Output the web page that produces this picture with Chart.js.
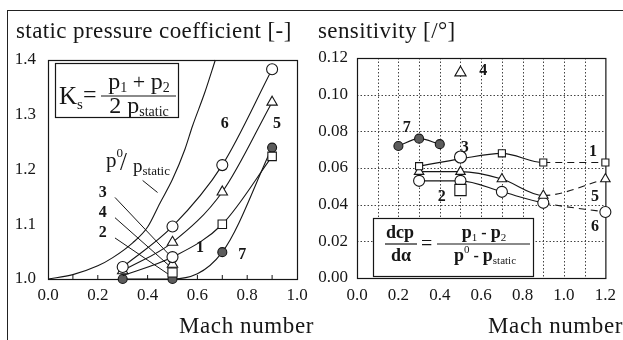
<!DOCTYPE html>
<html>
<head>
<meta charset="utf-8">
<script src="https://cdn.jsdelivr.net/npm/chart.js@4.4.0/dist/chart.umd.min.js"></script>
<style>
  html, body { margin: 0; padding: 0; background: #fff; }
  #wrap { position: relative; width: 623px; height: 340px; overflow: hidden; background: #fff; }
  #c1 { position: absolute; left: 0; top: 0; }
  #c2 { position: absolute; left: 310px; top: 0; }
  #frameTop { position: absolute; left: 7px; top: 10px; width: 616px; height: 0; border-top: 1.5px solid #222; }
  #frameLeft { position: absolute; left: 7px; top: 10px; width: 0; height: 330px; border-left: 1.5px solid #222; }
</style>
</head>
<body>
<div id="wrap">
  <canvas id="c1" width="330" height="340"></canvas>
  <canvas id="c2" width="313" height="340"></canvas>
  <div id="frameTop"></div>
  <div id="frameLeft"></div>
</div>
<script>
// ---------------- data ----------------
// Static pressure coefficient Ks = (p1 + p2) / (2 p_static) per probe
const ksMach = [0.3, 0.5, 0.7, 0.9];
const ksProbe1 = [1.006, 1.040, 1.100, 1.224];
const ksProbe5 = [1.015, 1.067, 1.159, 1.323];
const ksProbe6 = [1.022, 1.096, 1.208, 1.383];
const ksProbe7 = [1.000, 1.000, 1.049, 1.240];
const ksSingleMach = [0.5];
const ksProbe2 = [1.012];
const ksProbe3 = [1.040];
const ksProbe4 = [1.027];

// Total-to-static pressure ratio p0 / p_static
const ratioMach  = [0.0, 0.1, 0.2, 0.26, 0.34, 0.40, 0.45, 0.50, 0.55, 0.58, 0.63, 0.672];
const ratioValue = [1.000, 1.008, 1.024, 1.039, 1.066, 1.095, 1.139, 1.182, 1.237, 1.279, 1.341, 1.400];

// Sensitivity dcp/dalpha per probe [1/deg]
const sensMach = [0.3, 0.5, 0.7, 0.9, 1.2];
const sensProbe1 = [0.061, 0.065, 0.068, 0.063, 0.063];
const sensProbe5 = [0.058, 0.058, 0.054, 0.045, 0.054];
const sensProbe6 = [0.053, 0.053, 0.047, 0.041, 0.036];
const sens7Mach = [0.2, 0.3, 0.4];
const sensProbe7 = [0.072, 0.076, 0.073];
const sensSingleMach = [0.5];
const sensProbe2 = [0.048];
const sensProbe3 = [0.066];
const sensProbe4 = [0.112];

// Tick values
const ksMachTicks = [0.0, 0.2, 0.4, 0.6, 0.8, 1.0];
const ksTicks = [1.0, 1.1, 1.2, 1.3, 1.4];
const sensMachTicks = [0.0, 0.2, 0.4, 0.6, 0.8, 1.0, 1.2];
const sensTicks = [0.00, 0.02, 0.04, 0.06, 0.08, 0.10, 0.12];
const sensMachGrid = [0.1, 0.2, 0.3, 0.4, 0.5, 0.6, 0.7, 0.8, 0.9, 1.0, 1.1];
const sensGrid = [0.02, 0.04, 0.06, 0.08, 0.10];

// Probe labels and leader lines, in axis units
const ksLabels = [
  ['6', 0.71, 1.283], ['5', 0.92, 1.283], ['3', 0.22, 1.158], ['4', 0.22, 1.121],
  ['2', 0.22, 1.084], ['1', 0.61, 1.057], ['7', 0.78, 1.044]
];
const ksLeaders = [
  [0.269, 1.149, 0.502, 1.037],
  [0.269, 1.112, 0.510, 1.015],
  [0.269, 1.075, 0.502, 1.003],
  [0.380, 1.180, 0.440, 1.158]
];
const sensLabels = [
  ['7', 0.24, 0.082], ['4', 0.61, 0.113], ['3', 0.52, 0.071], ['2', 0.41, 0.044],
  ['1', 1.14, 0.069], ['5', 1.15, 0.044], ['6', 1.15, 0.028]
];

// ---------------- helpers ----------------
const INK = '#161616';
const FILL7 = '#5c5c5c';
const SERIF = '"Liberation Serif", "Times New Roman", "DejaVu Serif", serif';

const pts = (xs, ys) => xs.map((x, i) => ({ x, y: ys[i] }));

function text(ctx, s, x, y, size, o = {}) {
  ctx.save();
  ctx.font = (o.bold ? 'bold ' : '') + size + 'px ' + SERIF;
  ctx.fillStyle = o.color || INK;
  ctx.textAlign = o.align || 'left';
  ctx.textBaseline = o.baseline || 'alphabetic';
  if (o.spacing) ctx.letterSpacing = o.spacing + 'px';
  ctx.fillText(s, x, y);
  const w = ctx.measureText(s).width;
  ctx.restore();
  return w;
}

// Draws a run of text pieces [string, size, dy, bold] centred or left aligned on x
function runs(ctx, parts, x, y, align) {
  ctx.save();
  const widths = parts.map(p => {
    ctx.font = (p[3] ? 'bold ' : '') + p[1] + 'px ' + SERIF;
    return ctx.measureText(p[0]).width;
  });
  const total = widths.reduce((a, b) => a + b, 0);
  let cx = align === 'center' ? x - total / 2 : x;
  ctx.fillStyle = INK;
  ctx.textBaseline = 'alphabetic';
  ctx.textAlign = 'left';
  parts.forEach((p, i) => {
    ctx.font = (p[3] ? 'bold ' : '') + p[1] + 'px ' + SERIF;
    ctx.fillText(p[0], cx, y + (p[2] || 0));
    cx += widths[i];
  });
  ctx.restore();
  return total;
}

function seg(ctx, x0, y0, x1, y1, w) {
  ctx.save();
  ctx.strokeStyle = INK;
  ctx.lineWidth = w || 1;
  ctx.beginPath();
  ctx.moveTo(x0, y0);
  ctx.lineTo(x1, y1);
  ctx.stroke();
  ctx.restore();
}

function axes(opts) {
  return {
    x: {
      type: 'linear', min: opts.xmin, max: opts.xmax,
      afterBuildTicks: s => { s.ticks = opts.xticks.map(v => ({ value: v })); },
      afterFit: s => { s.height = opts.xh; },
      grid: { display: false, drawTicks: false },
      border: { display: false },
      ticks: {
        autoSkip: false, maxRotation: 0, padding: opts.xpad, color: INK,
        font: { family: SERIF, size: 17 },
        callback: v => v.toFixed(1)
      }
    },
    y: {
      type: 'linear', min: opts.ymin, max: opts.ymax,
      afterBuildTicks: s => { s.ticks = opts.yticks.map(v => ({ value: v })); },
      afterFit: s => { s.width = opts.yw; },
      grid: { display: false, drawTicks: false },
      border: { display: false },
      ticks: {
        autoSkip: false, padding: opts.ypad, color: INK,
        font: { family: SERIF, size: 17 },
        callback: v => v.toFixed(opts.ydec)
      }
    }
  };
}

function series(data, style, extra) {
  return Object.assign({
    data,
    showLine: true,
    borderColor: INK,
    borderWidth: 1.1,
    pointStyle: style,
    pointRadius: 5,
    pointBackgroundColor: '#fff',
    pointBorderColor: INK,
    pointBorderWidth: 1.1,
    cubicInterpolationMode: 'monotone',
    tension: 0.4,
    clip: false
  }, extra || {});
}

// ---------------- left panel: static pressure coefficient ----------------
const leftDecor = {
  id: 'leftDecor',
  beforeDatasetsDraw(chart) {
    const { ctx, chartArea: a, scales: { x, y } } = chart;
    // plot frame
    ctx.save();
    ctx.strokeStyle = INK;
    ctx.lineWidth = 1.2;
    ctx.strokeRect(a.left + 0.5, a.top + 0.5, a.right - a.left, a.bottom - a.top);
    ctx.restore();
    // inward tick marks along the Mach axis
    for (let m = 1; m < 10; m++) {
      const px = x.getPixelForValue(m / 10);
      seg(ctx, px, a.bottom, px, a.bottom - 4, 1);
    }
    // leader lines from the probe labels
    ksLeaders.forEach(l => seg(ctx,
      x.getPixelForValue(l[0]), y.getPixelForValue(l[1]),
      x.getPixelForValue(l[2]), y.getPixelForValue(l[3]), 1));
    // Ks formula box
    ctx.save();
    ctx.fillStyle = '#fff';
    ctx.fillRect(55, 63, 123, 54);
    ctx.strokeStyle = INK;
    ctx.lineWidth = 1.2;
    ctx.strokeRect(55.5, 63.5, 123, 54);
    ctx.restore();
    runs(ctx, [['K', 25], ['s', 15, 5]], 59, 104, 'left');
    text(ctx, '=', 83, 102, 24);
    runs(ctx, [['p', 24], ['1', 14, 3], [' + ', 22], ['p', 24], ['2', 14, 3]], 139, 89, 'center');
    seg(ctx, 101, 96, 176, 96, 1.2);
    runs(ctx, [['2 p', 24], ['static', 14, 3]], 139, 113, 'center');
    // p0 / p_static label
    runs(ctx, [['p', 21], ['0', 13, -10]], 106, 167, 'left');
    text(ctx, '/', 120, 170, 25);
    runs(ctx, [['p', 19], ['static', 13, 3]], 133, 172, 'left');
  },
  afterDatasetsDraw(chart) {
    const { ctx, scales: { x, y } } = chart;
    ksLabels.forEach(l => text(ctx, l[0], x.getPixelForValue(l[1]), y.getPixelForValue(l[2]), 16,
      { bold: true, align: 'center', baseline: 'middle' }));
    text(ctx, 'static pressure coefficient [-]', 16, 38, 23, { spacing: 0.4 });
    text(ctx, 'Mach number', 179, 333, 23, { spacing: 0.6 });
  }
};

new Chart(document.getElementById('c1'), {
  type: 'scatter',
  data: {
    datasets: [
      series(pts(ksSingleMach, ksProbe3), 'circle', { pointRadius: 5.5, showLine: false }),
      series(pts(ksSingleMach, ksProbe4), 'triangle', { pointRadius: 6, showLine: false }),
      series(pts(ksSingleMach, ksProbe2), 'rect', { pointRadius: 6.5, showLine: false }),
      series(pts(ksMach, ksProbe6), 'circle', { pointRadius: 5.5 }),
      series(pts(ksMach, ksProbe5), 'triangle', { pointRadius: 6 }),
      series(pts(ksMach, ksProbe1), 'rect', { pointRadius: [0, 0, 6, 6] }),
      series(pts(ksMach, ksProbe7), 'circle', { pointRadius: 4.5, pointBackgroundColor: FILL7 }),
      series(pts(ratioMach, ratioValue), 'circle', { pointRadius: 0, clip: 2 })
    ]
  },
  options: {
    responsive: false, animation: false, devicePixelRatio: 1,
    layout: { padding: { left: 0, top: 60, right: 33, bottom: 0 } },
    plugins: { legend: { display: false }, tooltip: { enabled: false } },
    scales: axes({
      xmin: 0, xmax: 1.0, xticks: ksMachTicks, xh: 61, xpad: 6,
      ymin: 1.0, ymax: 1.4, yticks: ksTicks, yw: 48, ypad: 12, ydec: 1
    })
  },
  plugins: [leftDecor]
});

// ---------------- right panel: sensitivity ----------------
const OX = 310; // page offset of this canvas
const rightDecor = {
  id: 'rightDecor',
  beforeDatasetsDraw(chart) {
    const { ctx, chartArea: a, scales: { x, y } } = chart;
    // dotted grid
    ctx.save();
    ctx.strokeStyle = '#444';
    ctx.lineWidth = 1;
    ctx.setLineDash([1.5, 2]);
    ctx.beginPath();
    sensMachGrid.forEach(m => {
      const px = Math.round(x.getPixelForValue(m)) + 0.5;
      ctx.moveTo(px, a.top); ctx.lineTo(px, a.bottom);
    });
    sensGrid.forEach(v => {
      const py = Math.round(y.getPixelForValue(v)) + 0.5;
      ctx.moveTo(a.left, py); ctx.lineTo(a.right, py);
    });
    ctx.stroke();
    ctx.restore();
    // plot frame
    ctx.save();
    ctx.strokeStyle = INK;
    ctx.lineWidth = 1.2;
    ctx.strokeRect(a.left + 0.5, a.top + 0.5, a.right - a.left, a.bottom - a.top);
    ctx.restore();
    // sensitivity formula box
    const bx = 373 - OX, by = 218;
    ctx.save();
    ctx.fillStyle = '#fff';
    ctx.fillRect(bx, by, 160, 58);
    ctx.strokeStyle = INK;
    ctx.lineWidth = 1.2;
    ctx.strokeRect(bx + 0.5, by + 0.5, 160, 58);
    ctx.restore();
    runs(ctx, [['dcp', 18, 0, true]], 400 - OX, 238, 'center');
    seg(ctx, 385 - OX, 244, 417 - OX, 244, 1.2);
    runs(ctx, [['d\u03b1', 18, 0, true]], 401 - OX, 261, 'center');
    text(ctx, '=', 421 - OX, 250, 20);
    runs(ctx, [['p', 18, 0, true], ['1', 11, 3], [' - ', 16, 0, true], ['p', 18, 0, true], ['2', 11, 3]], 484 - OX, 238, 'center');
    seg(ctx, 437 - OX, 244, 530 - OX, 244, 1.2);
    runs(ctx, [['p', 18, 0, true], ['0', 11, -8], [' - ', 16, 0, true], ['p', 18, 0, true], ['static', 11, 3]], 485 - OX, 261, 'center');
  },
  afterDatasetsDraw(chart) {
    const { ctx, scales: { x, y } } = chart;
    sensLabels.forEach(l => text(ctx, l[0], x.getPixelForValue(l[1]), y.getPixelForValue(l[2]), 16,
      { bold: true, align: 'center', baseline: 'middle' }));
    text(ctx, 'sensitivity [/\u00b0]', 318 - OX, 38, 23, { spacing: 0.4 });
    text(ctx, 'Mach number', 623 - OX, 333, 23, { spacing: 0.6, align: 'right' });
  }
};

const dashTail = { borderDash: c => (c.p0.parsed.x >= 0.85 ? [7, 5] : undefined) };

new Chart(document.getElementById('c2'), {
  type: 'scatter',
  data: {
    datasets: [
      series(pts(sensSingleMach, sensProbe3), 'circle', { pointRadius: 6, showLine: false }),
      series(pts(sensSingleMach, sensProbe4), 'triangle', { pointRadius: 6.5, showLine: false }),
      series(pts(sensSingleMach, sensProbe2), 'rect', { pointRadius: 8, showLine: false }),
      series(pts(sens7Mach, sensProbe7), 'circle', { pointRadius: 4.5, pointBackgroundColor: FILL7 }),
      series(pts(sensMach, sensProbe1), 'rect', { pointRadius: [5, 0, 5, 5, 5], segment: dashTail }),
      series(pts(sensMach, sensProbe5), 'triangle', { pointRadius: 5.5, segment: dashTail }),
      series(pts(sensMach, sensProbe6), 'circle', { pointRadius: 5.5, segment: dashTail })
    ]
  },
  options: {
    responsive: false, animation: false, devicePixelRatio: 1,
    layout: { padding: { left: 0, top: 58, right: 17, bottom: 0 } },
    plugins: { legend: { display: false }, tooltip: { enabled: false } },
    scales: axes({
      xmin: 0, xmax: 1.2, xticks: sensMachTicks, xh: 62, xpad: 7,
      ymin: 0, ymax: 0.12, yticks: sensTicks, yw: 47, ypad: 9, ydec: 2
    })
  },
  plugins: [rightDecor]
});
</script>
</body>
</html>
